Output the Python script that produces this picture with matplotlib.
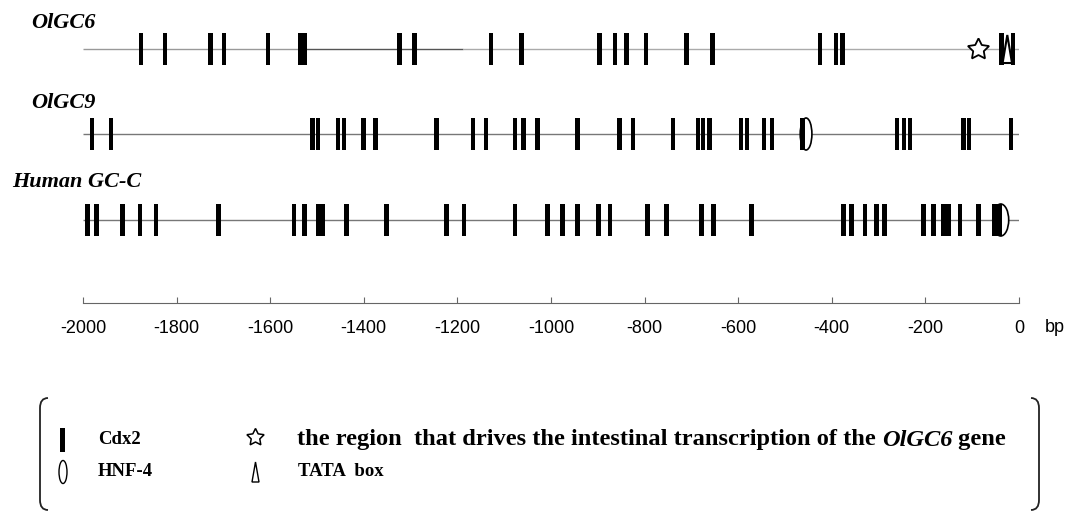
import matplotlib
matplotlib.use("Agg")
import matplotlib.pyplot as plt
from matplotlib.patches import Ellipse, Polygon, PathPatch
from matplotlib.path import Path

W, H = 1075, 514

# site positions (bp upstream of start)
track_names = ["OlGC6", "OlGC9", "Human GC-C"]

olgc6_cdx2 = [-1876, -1825, -1727, -1699, -1605, -1536, -1526, -1323, -1291,
              -1128, -1063, -897, -863, -838, -797, -710, -655, -425, -391,
              -377, -37, -13]
olgc6_star = [-87]
olgc6_tata = [-25]

olgc9_cdx2 = [-1981, -1940, -1509, -1498, -1455, -1442, -1401, -1375, -1244,
              -1167, -1139, -1077, -1059, -1029, -943, -853, -825, -739, -686,
              -675, -661, -594, -581, -545, -528, -462, -261, -246, -233,
              -118, -107, -17]
olgc9_hnf4 = [-455]

human_cdx2 = [-1991, -1971, -1916, -1878, -1844, -1711, -1549, -1526, -1497,
              -1488, -1437, -1351, -1223, -1186, -1077, -1008, -975, -944,
              -899, -874, -794, -753, -678, -653, -571, -375, -358, -329,
              -304, -288, -204, -183, -162, -151, -126, -87, -53, -42]
human_hnf4 = [-39]

tick_values = list(range(-2000, 1, 200))

SERIF = "Liberation Serif"
SANS = "Liberation Sans"

fig = plt.figure(figsize=(W / 100, H / 100), dpi=100)

# track axes: x in bp, y in pixel rows
ax = fig.add_axes([83 / W, 0, 936 / W, 1])
ax.set_xlim(-2000, 0)
ax.set_ylim(H, 0)
ax.axis("off")

line_y = [49, 134, 220]
bar_h = 32
bar_w = 10

# backbone lines
ax.hlines(line_y[0], -2000, -1525, color="#999999", lw=1)
ax.hlines(line_y[0], -1525, -1188, color="#555555", lw=1)
ax.hlines(line_y[0], -1188, 0, color="#aaaaaa", lw=1)
ax.hlines(line_y[1], -2000, 0, color="#777777", lw=1)
ax.hlines(line_y[2], -2000, 0, color="#777777", lw=1)

# HNF-4 ellipses (under the bars)
for xs, y, w in [(olgc9_hnf4, line_y[1], 25), (human_hnf4, line_y[2], 34)]:
    for x in xs:
        ax.add_patch(Ellipse((x, y), w, bar_h, facecolor="white",
                             edgecolor="black", lw=1.2, zorder=2))

for sites, y in [(olgc6_cdx2, line_y[0]), (olgc9_cdx2, line_y[1]),
                 (human_cdx2, line_y[2])]:
    ax.bar(sites, bar_h, width=bar_w, bottom=y - bar_h / 2,
           color="black", zorder=3)

# TATA box triangle
for x in olgc6_tata:
    top = line_y[0] - bar_h / 2 + 2
    bot = line_y[0] + bar_h / 2 - 2
    ax.add_patch(Polygon([(x - 10, bot), (x + 10, bot), (x, top)],
                         closed=True, facecolor="white", edgecolor="black",
                         lw=1.5, zorder=4))

ax.plot(olgc6_star, [line_y[0]] * len(olgc6_star), linestyle="none",
        marker=(5, 1), markersize=16, markerfacecolor="white",
        markeredgecolor="black", markeredgewidth=1.3, zorder=4)

# scale axis
ax_s = fig.add_axes([83 / W, 1 - 303 / H, 936 / W, 0.0001])
ax_s.set_xlim(-2000, 0)
for side in ["top", "left", "right"]:
    ax_s.spines[side].set_visible(False)
ax_s.spines["bottom"].set_color("#666666")
ax_s.set_yticks([])
ax_s.set_xticks(tick_values)
ax_s.set_xticklabels([str(v) for v in tick_values])
ax_s.tick_params(axis="x", direction="in", length=4, width=0.8,
                 color="#666666", pad=12, labelsize=13)
for lbl in ax_s.get_xticklabels():
    lbl.set_fontfamily(SANS)
ax_s.patch.set_alpha(0)

# overlay in pixel coords for labels and legend
ov = fig.add_axes([0, 0, 1, 1])
ov.set_xlim(0, W)
ov.set_ylim(H, 0)
ov.axis("off")
ov.patch.set_alpha(0)

label_pos = [(31, 28), (31, 108), (12, 187)]
for name, (x, y) in zip(track_names, label_pos):
    ov.text(x, y, name, fontsize=16, fontweight="bold", fontstyle="italic",
            family=SERIF, ha="left", va="baseline")

ov.text(1045, 328, "bp", fontsize=13, family=SANS, ha="left", va="center")

# brackets
def bracket(x0, x1, y0, y1):
    verts = [(x1, y0), (x0, y0), (x0, y0 + 10), (x0, y1 - 10), (x0, y1), (x1, y1)]
    codes = [Path.MOVETO, Path.CURVE3, Path.CURVE3, Path.LINETO, Path.CURVE3, Path.CURVE3]
    ov.add_patch(PathPatch(Path(verts, codes), facecolor="none",
                           edgecolor="#222222", lw=1.3))

bracket(40, 48, 398, 510)
bracket(1039, 1031, 398, 510)

# legend symbols
ov.add_patch(plt.Rectangle((60, 428), 5, 24, facecolor="black"))
ov.add_patch(Ellipse((63, 472), 8, 23, facecolor="white", edgecolor="black", lw=1))
ov.plot([255], [437], linestyle="none", marker=(5, 1), markersize=13,
        markerfacecolor="white", markeredgecolor="black", markeredgewidth=1.1)
ov.add_patch(Polygon([(252, 482), (259, 482), (255.5, 462)], closed=True,
                     facecolor="white", edgecolor="black", lw=1))

ov.text(98, 440, "Cdx2", fontsize=13.5, fontweight="bold", family=SERIF,
        ha="left", va="center")
ov.text(98, 472, "HNF-4", fontsize=13.5, fontweight="bold", family=SERIF,
        ha="left", va="center")
ov.text(298, 472, "TATA  box", fontsize=13.5, fontweight="bold", family=SERIF,
        ha="left", va="center")

t1 = ov.text(297, 440, "the region  that drives the intestinal transcription of the ",
             fontsize=17.6, fontweight="bold", family=SERIF, ha="left", va="center")
t2 = ov.annotate("OlGC6", xy=(1, 0), xycoords=t1, ha="left", va="bottom",
                 fontsize=17.6, fontweight="bold", fontstyle="italic", family=SERIF)
ov.annotate(" gene", xy=(1, 0), xycoords=t2, ha="left", va="bottom",
            fontsize=17.6, fontweight="bold", family=SERIF)

fig.savefig("out.png", dpi=100)
